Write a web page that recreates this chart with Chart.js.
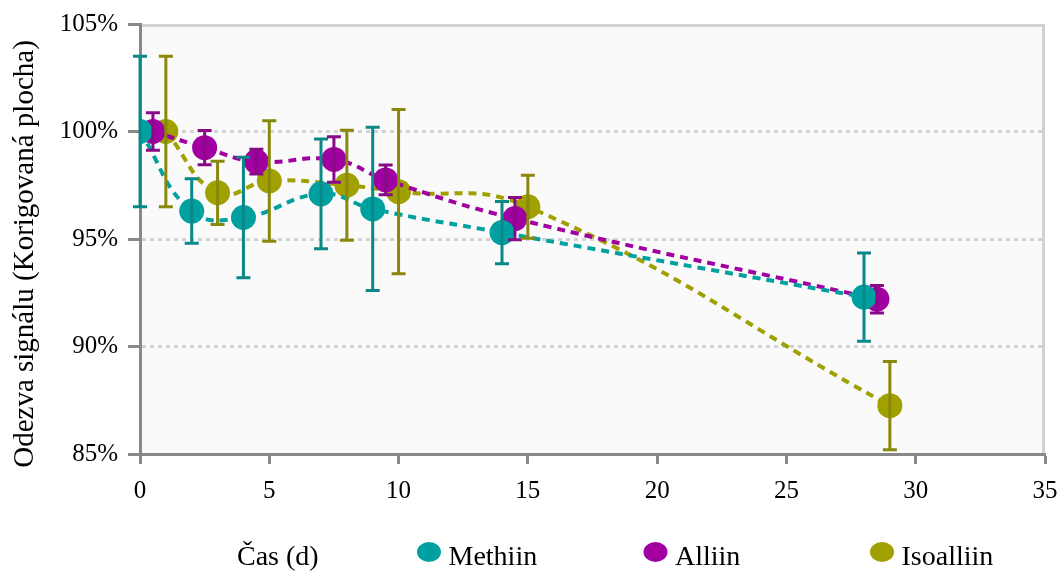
<!DOCTYPE html>
<html>
<head>
<meta charset="utf-8">
<script src="https://cdn.jsdelivr.net/npm/chart.js@4/dist/chart.umd.min.js"></script>
<style>
  html, body { margin: 0; padding: 0; background: #fff; }
  #wrap { width: 1061px; height: 571px; }
</style>
</head>
<body>
<div id="wrap"><canvas id="myChart" width="1061" height="571"></canvas></div>
<script>
// days (small offsets as in the original so the markers do not overlap)
var methiin_x = [0, 2, 4, 7, 9, 14, 28]
var alliin_x = [0.5, 2.5, 4.5, 7.5, 9.5, 14.5, 28.5]
var isoalliin_x = [1, 3, 5, 8, 10, 15, 29]

// signal response, %
var methiin = [100, 96.3, 96.0, 97.1, 96.4, 95.3, 92.3]
var alliin = [100, 99.25, 98.6, 98.7, 97.75, 95.95, 92.2]
var isoalliin = [100, 97.15, 97.7, 97.5, 97.2, 96.5, 87.25]

// error (+/-)
var methiin_err = [3.5, 1.5, 2.8, 2.55, 3.8, 1.45, 2.05]
var alliin_err = [0.87, 0.8, 0.58, 1.06, 0.69, 0.98, 0.64]
var isoalliin_err = [3.5, 1.47, 2.8, 2.56, 3.82, 1.47, 2.05]

var series_names = ['Methiin', 'Alliin', 'Isoalliin']
var x_title = 'Čas (d)'
var y_title = 'Odezva signálu (Korigovaná plocha)'

function pts(xs, ys) {
  var out = []
  for (var i = 0; i < xs.length; i++) out.push({x: xs[i], y: ys[i]})
  return out
}

var colors = ['#00a0a0', '#a000a0', '#a0a000']
var err_colors = ['#0a8888', '#880a88', '#88880a']
var errors = [methiin_err, alliin_err, isoalliin_err]

const errorBars = {
  id: 'errorBars',
  afterDatasetsDraw(chart) {
    const ctx = chart.ctx
    const y = chart.scales.y
    chart.data.datasets.forEach(function (ds, di) {
      const meta = chart.getDatasetMeta(di)
      ctx.save()
      ctx.strokeStyle = err_colors[di]
      ctx.lineWidth = 3
      meta.data.forEach(function (p, i) {
        const v = ds.data[i].y
        const e = errors[di][i]
        const top = y.getPixelForValue(v + e)
        const bot = y.getPixelForValue(v - e)
        ctx.beginPath()
        ctx.moveTo(p.x, top); ctx.lineTo(p.x, bot)
        ctx.moveTo(p.x - 7, top); ctx.lineTo(p.x + 7, top)
        ctx.moveTo(p.x - 7, bot); ctx.lineTo(p.x + 7, bot)
        ctx.stroke()
      })
      ctx.restore()
    })
  }
}

const plotArea = {
  id: 'plotArea',
  beforeDraw(chart) {
    const ctx = chart.ctx
    const a = chart.chartArea
    ctx.save()
    ctx.fillStyle = '#fafafa'
    ctx.fillRect(a.left, a.top, a.right - a.left, a.bottom - a.top)
    ctx.strokeStyle = '#d2d2d2'
    ctx.lineWidth = 3
    ctx.beginPath()
    ctx.moveTo(a.left, a.top + 1.5)
    ctx.lineTo(a.right - 1.5, a.top + 1.5)
    ctx.lineTo(a.right - 1.5, a.bottom)
    ctx.stroke()
    ctx.restore()
  },
  afterDraw(chart) {
    const ctx = chart.ctx
    ctx.save()
    ctx.fillStyle = '#000'
    // y title
    ctx.font = '29px "Liberation Serif"'
    ctx.textAlign = 'center'
    ctx.textBaseline = 'middle'
    ctx.translate(25, 254)
    ctx.rotate(-Math.PI / 2)
    ctx.fillText(y_title, 0, 0)
    ctx.restore()

    // legend row with the x title
    ctx.save()
    ctx.font = '28px "Liberation Serif"'
    ctx.textBaseline = 'alphabetic'
    ctx.textAlign = 'left'
    ctx.fillStyle = '#000'
    ctx.fillText(x_title, 237, 565)
    var cx = [429, 655.5, 882]
    for (var i = 0; i < series_names.length; i++) {
      ctx.fillStyle = colors[i]
      ctx.beginPath()
      ctx.ellipse(cx[i], 552, 12, 10, 0, 0, Math.PI * 2)
      ctx.fill()
      ctx.fillStyle = '#000'
      ctx.fillText(series_names[i], cx[i] + 19.5, 565)
    }
    ctx.restore()
  }
}

function makeSet(label, data, i) {
  return {
    label: label,
    data: data,
    showLine: true,
    borderColor: colors[i],
    backgroundColor: colors[i],
    borderWidth: 4,
    borderDash: [8, 6],
    tension: 0.45,
    pointRadius: 12.5,
    pointHoverRadius: 12.5,
    pointBorderWidth: 0,
    pointBackgroundColor: colors[i]
  }
}

const ctx = document.getElementById('myChart')

new Chart(ctx, {
  type: 'scatter',
  data: {
    datasets: [
      makeSet(series_names[0], pts(methiin_x, methiin), 0),
      makeSet(series_names[1], pts(alliin_x, alliin), 1),
      makeSet(series_names[2], pts(isoalliin_x, isoalliin), 2)
    ]
  },
  options: {
    responsive: false,
    animation: false,
    layout: { padding: { left: 0, top: 24, right: 16, bottom: 57 } },
    plugins: {
      legend: { display: false },
      tooltip: { enabled: false }
    },
    scales: {
      x: {
        type: 'linear',
        min: 0,
        max: 35,
        afterFit: function (s) {
          s.height = 60
          s.paddingLeft = 0
          s.paddingRight = 0
        },
        ticks: {
          stepSize: 5,
          padding: 12,
          color: '#000',
          font: { family: 'Liberation Serif', size: 25 }
        },
        grid: {
          drawOnChartArea: false,
          drawTicks: true,
          tickLength: 10,
          tickColor: '#888',
          tickWidth: 3
        },
        border: { color: '#888', width: 3 }
      },
      y: {
        min: 85,
        max: 105,
        afterFit: function (s) {
          s.width = 140
          s.paddingTop = 0
          s.paddingBottom = 0
        },
        ticks: {
          stepSize: 5,
          padding: 10,
          color: '#000',
          font: { family: 'Liberation Serif', size: 25 },
          callback: function (v) { return v + '%' }
        },
        grid: {
          color: function (c) {
            if (c.tick && (c.tick.value === 85 || c.tick.value === 105)) return 'rgba(0,0,0,0)'
            return '#d2d2d2'
          },
          lineWidth: 3,
          tickLength: 12,
          tickColor: '#888',
          tickWidth: 3
        },
        border: { color: '#888', width: 3, dash: [4, 4] }
      }
    }
  },
  plugins: [plotArea, errorBars]
})
</script>
</body>
</html>
